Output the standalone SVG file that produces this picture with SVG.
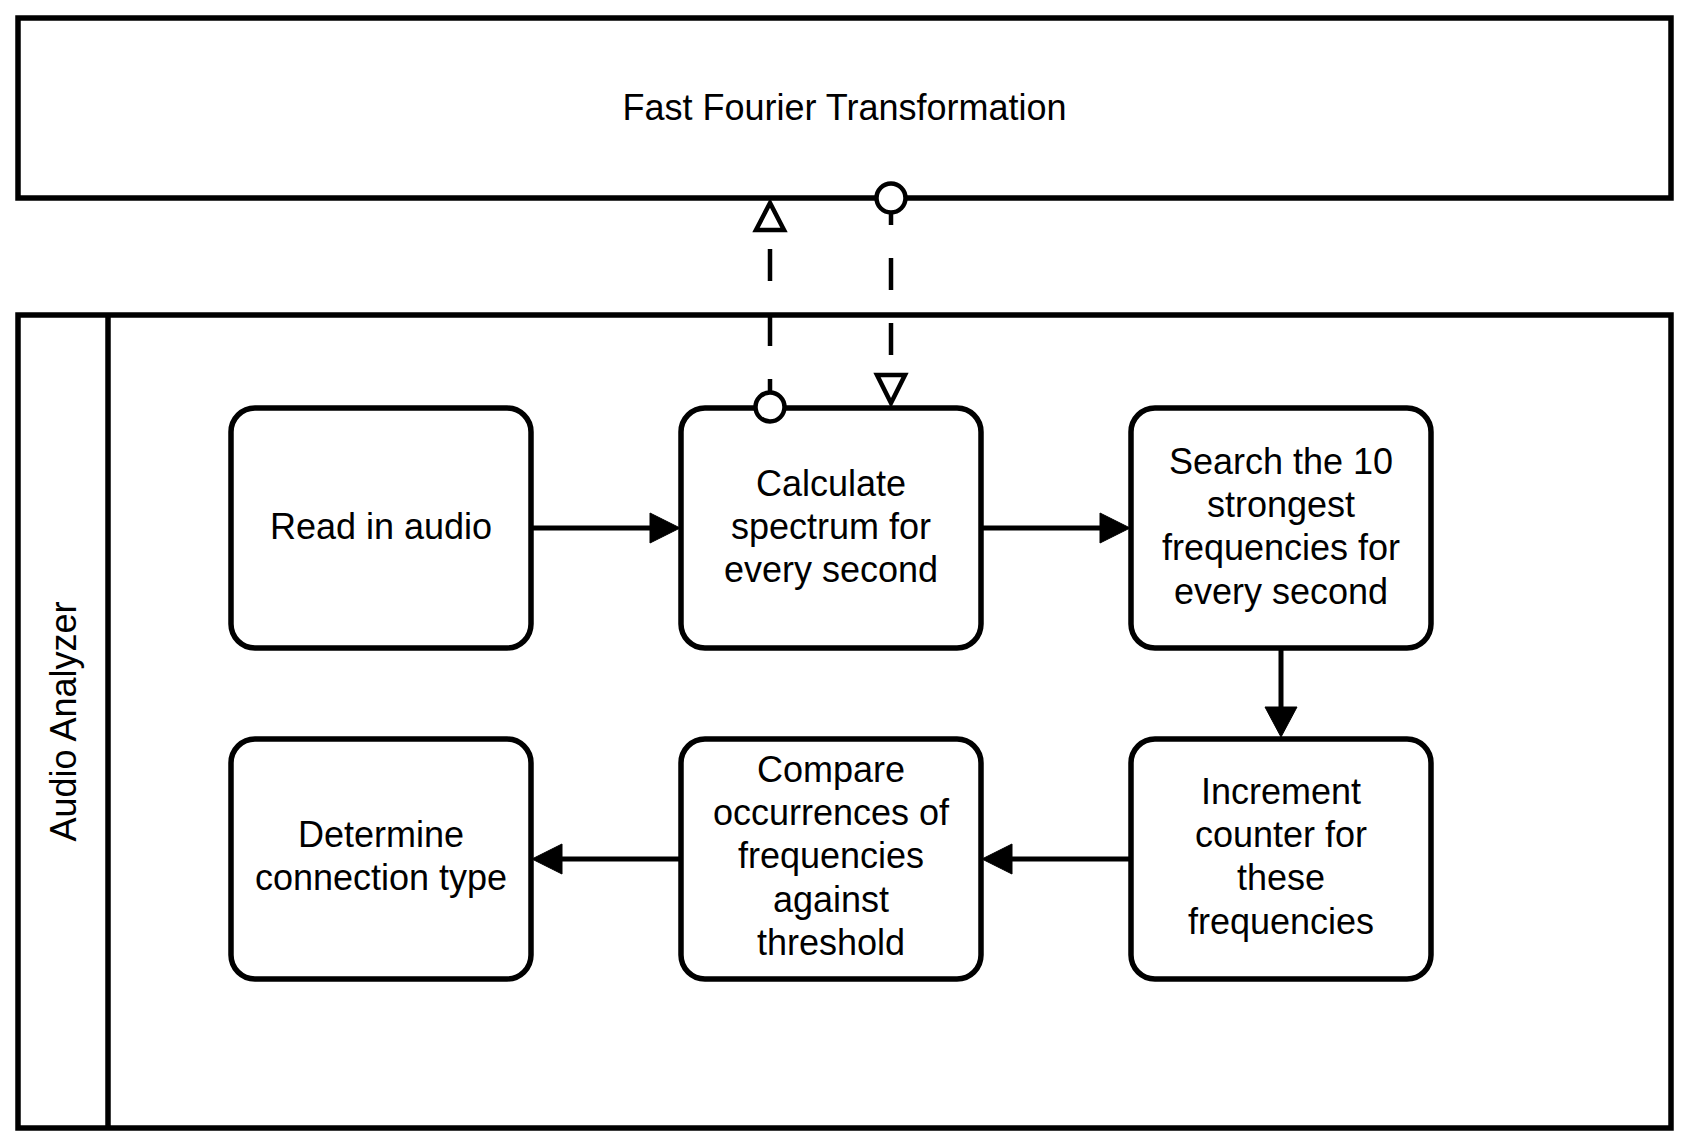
<svg xmlns="http://www.w3.org/2000/svg" width="1689" height="1146" viewBox="0 0 1689 1146">
<style>
.box{fill:#fff;stroke:#000;stroke-width:5.5}
.node{fill:#fff;stroke:#000;stroke-width:5.5}
.t{font-family:"Liberation Sans",Arial,sans-serif;font-size:36px;fill:#000;text-anchor:middle}
.flow{fill:none;stroke:#000;stroke-width:5}
.dash{fill:none;stroke:#000;stroke-width:4.5;stroke-dasharray:32 33}
.head{fill:#000;stroke:#000;stroke-width:1}
.open{fill:#fff;stroke:#000;stroke-width:4.5;stroke-linejoin:miter}
</style>
<rect width="1689" height="1146" fill="#fff"/>
<g id="fft">
<rect class="box" x="18" y="18" width="1653" height="180"/>
<text class="t" x="844.5" y="119.5">Fast Fourier Transformation</text>
</g>
<g id="audio-analyzer">
<rect class="box" x="18" y="315" width="1653" height="813"/>
<line class="box" x1="108" y1="315" x2="108" y2="1128"/>
<text class="t" transform="translate(63,721.5) rotate(-90)" x="0" y="13">Audio Analyzer</text>
</g>
<g id="n1">
<rect class="node" x="231" y="408" width="300" height="240" rx="24"/>
<text class="t" x="381" y="538.5">Read in audio</text>
</g>
<g id="n2">
<rect class="node" x="681" y="408" width="300" height="240" rx="24"/>
<text class="t" x="831" y="495.5">Calculate</text>
<text class="t" x="831" y="538.5">spectrum for</text>
<text class="t" x="831" y="581.5">every second</text>
</g>
<g id="n3">
<rect class="node" x="1131" y="408" width="300" height="240" rx="24"/>
<text class="t" x="1281" y="473.5">Search the 10</text>
<text class="t" x="1281" y="516.5">strongest</text>
<text class="t" x="1281" y="560">frequencies for</text>
<text class="t" x="1281" y="603.5">every second</text>
</g>
<g id="n6">
<rect class="node" x="1131" y="739" width="300" height="240" rx="24"/>
<text class="t" x="1281" y="803.5">Increment</text>
<text class="t" x="1281" y="846.5">counter for</text>
<text class="t" x="1281" y="890">these</text>
<text class="t" x="1281" y="933.5">frequencies</text>
</g>
<g id="n5">
<rect class="node" x="681" y="739" width="300" height="240" rx="24"/>
<text class="t" x="831" y="781.5">Compare</text>
<text class="t" x="831" y="824.5">occurrences of</text>
<text class="t" x="831" y="868">frequencies</text>
<text class="t" x="831" y="911.5">against</text>
<text class="t" x="831" y="954.5">threshold</text>
</g>
<g id="n4">
<rect class="node" x="231" y="739" width="300" height="240" rx="24"/>
<text class="t" x="381" y="846.5">Determine</text>
<text class="t" x="381" y="889.5">connection type</text>
</g>
<g id="connectors">
<line class="flow" x1="533" y1="528" x2="652" y2="528"/>
<polygon class="head" points="650,513 680,528 650,543"/>
<line class="flow" x1="983" y1="528" x2="1102" y2="528"/>
<polygon class="head" points="1100,513 1130,528 1100,543"/>
<line class="flow" x1="1281" y1="650" x2="1281" y2="710"/>
<polygon class="head" points="1265,707 1297,707 1281,737"/>
<line class="flow" x1="1129" y1="859" x2="1010" y2="859"/>
<polygon class="head" points="1012,844 982,859 1012,874"/>
<line class="flow" x1="679" y1="859" x2="560" y2="859"/>
<polygon class="head" points="562,844 532,859 562,874"/>
<line class="dash" x1="770" y1="411" x2="770" y2="232"/>
<circle class="open" cx="770" cy="407" r="14.5"/>
<polygon class="open" points="770,203 756,230 784,230"/>
<line class="dash" x1="891" y1="193" x2="891" y2="374"/>
<circle class="open" cx="891" cy="198" r="14.5"/>
<polygon class="open" points="877,375 905,375 891,403"/>
</g>
</svg>
